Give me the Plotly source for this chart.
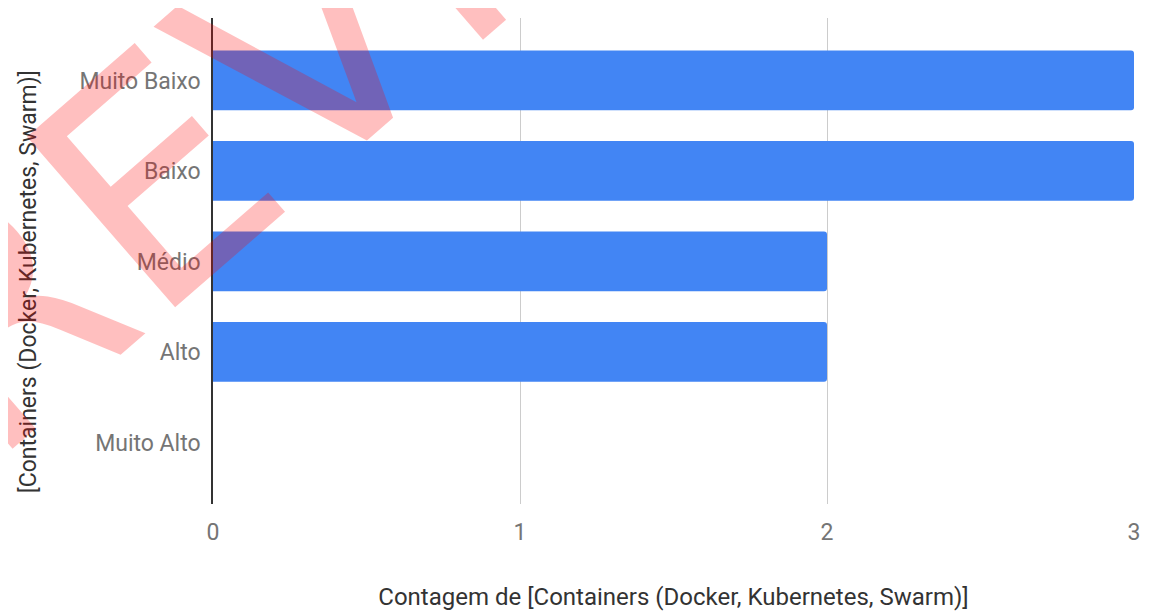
import plotly.graph_objects as go

categories = ["Muito Baixo", "Baixo", "Médio", "Alto", "Muito Alto"]
counts = [3, 3, 2, 2, 0]
x_ticks = [0, 1, 2, 3]
x_title = "Contagem de [Containers (Docker, Kubernetes, Swarm)]"
y_title = "[Containers (Docker, Kubernetes, Swarm)]"

fig = go.Figure(
    go.Bar(
        y=categories,
        x=counts,
        orientation="h",
        marker=dict(color="#4285F4", cornerradius=3, line=dict(width=0)),
        width=0.66,
        hoverinfo="x+y",
    )
)

# page body has an 8px margin, so the figure is sized to 1142x608
fig.update_layout(
    width=1142,
    height=608,
    margin=dict(l=205, r=16, t=10, b=109),
    paper_bgcolor="white",
    plot_bgcolor="white",
    font=dict(family="Roboto", color="#757575", size=23),
    showlegend=False,
    xaxis=dict(
        range=[0, 3],
        tickvals=x_ticks,
        ticktext=[str(v) for v in x_ticks],
        showgrid=True,
        gridcolor="#cccccc",
        gridwidth=1,
        zeroline=False,
        showline=False,
        ticks="",
        ticklen=0,
        ticklabelstandoff=12,
        tickfont=dict(size=23, color="#757575"),
        title=dict(text=x_title, font=dict(size=24, color="#333333"), standoff=43),
    ),
    yaxis=dict(
        categoryorder="array",
        categoryarray=categories,
        range=[4.68, -0.69],
        showgrid=False,
        zeroline=False,
        showline=True,
        linecolor="#333333",
        linewidth=1.5,
        ticks="",
        ticklabelstandoff=6,
        tickfont=dict(size=23, color="#757575"),
    ),
)

# y-axis title placed as a rotated annotation
fig.add_annotation(
    text=y_title,
    xref="paper",
    yref="paper",
    x=(28 - 213) / 921,
    y=(507 - 284) / 489,
    xanchor="center",
    yanchor="middle",
    showarrow=False,
    textangle=-90,
    font=dict(family="Roboto", size=23, color="#333333"),
)

fig.add_annotation(
    text="PREVIEW",
    xref="paper",
    yref="paper",
    x=(308 - 213) / 921,
    y=(507 - 50) / 489,
    xanchor="center",
    yanchor="middle",
    showarrow=False,
    textangle=-41,
    font=dict(family="DejaVu Sans", size=310, color="rgba(255,0,0,0.25)"),
)

fig.write_html("out.html")
